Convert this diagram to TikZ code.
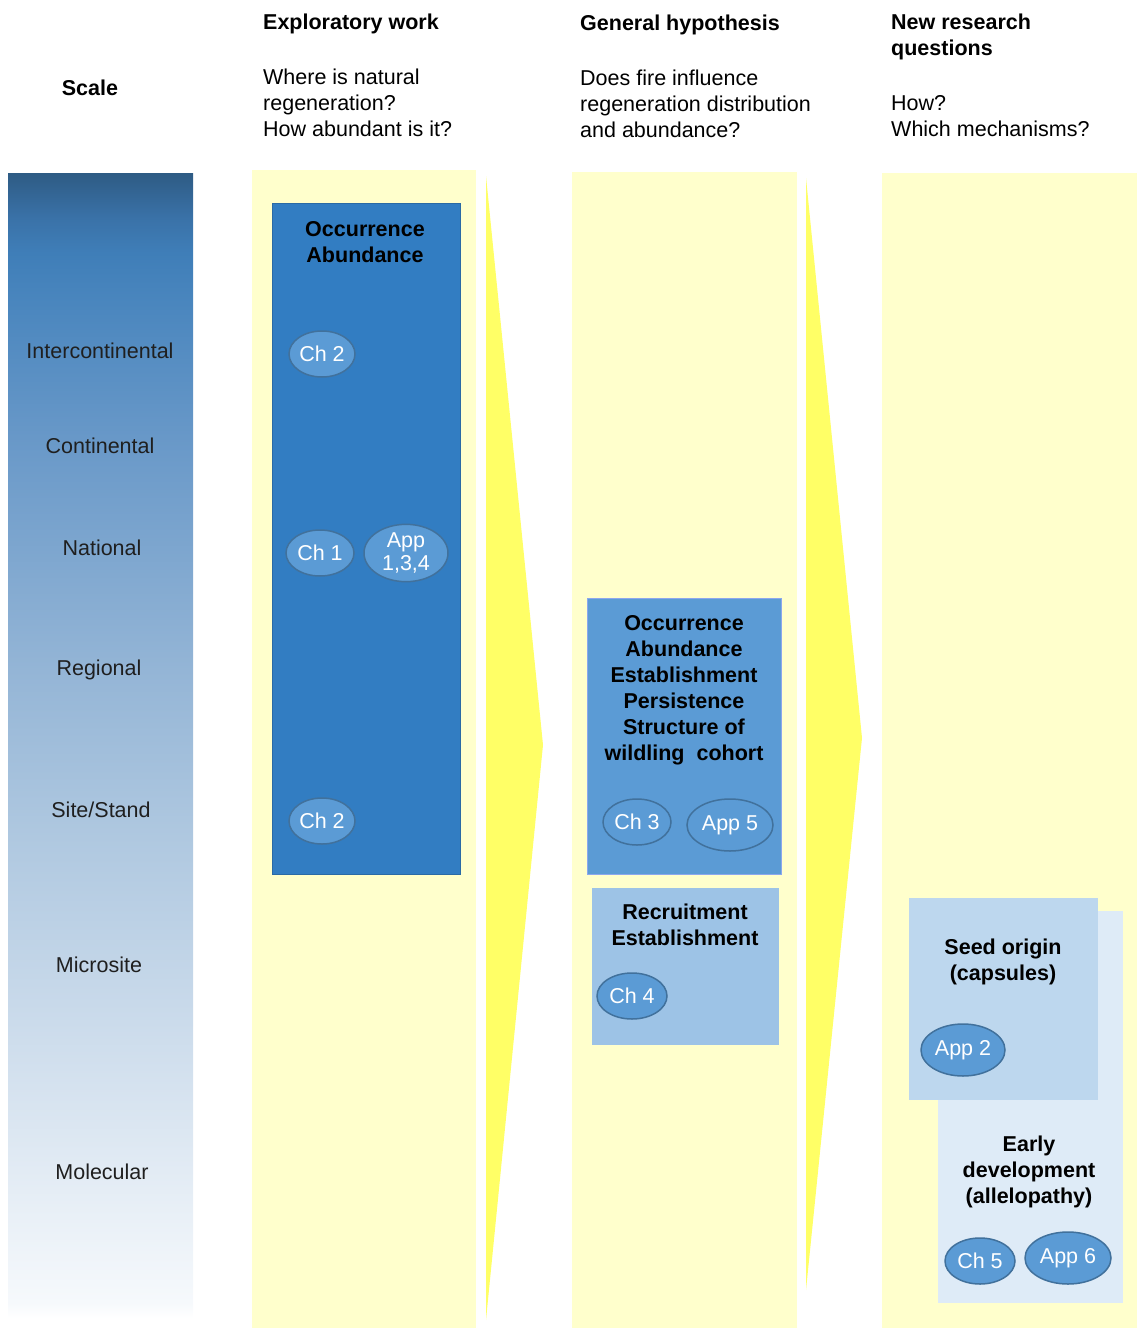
\documentclass[tikz,border=0pt]{standalone}
\usepackage{fontspec}
\setmainfont{Liberation Sans}
\usetikzlibrary{shapes.geometric}
\definecolor{scaletop}{HTML}{2E5B84}
\definecolor{sbA}{HTML}{F6F9FC}
\definecolor{sbB}{HTML}{E2EBF4}
\definecolor{sbC}{HTML}{C8D9EA}
\definecolor{sbD}{HTML}{AFC8E0}
\definecolor{sbE}{HTML}{94B5D6}
\definecolor{sbF}{HTML}{6898C8}
\definecolor{sbG}{HTML}{4A86BE}
\definecolor{sbH}{HTML}{3F7EB8}
\definecolor{sbI}{HTML}{3A72A8}
\definecolor{colyellow}{HTML}{FFFFCC}
\definecolor{arrowyellow}{HTML}{FFFF66}
\definecolor{boxdark}{HTML}{327DC2}
\definecolor{boxmid}{HTML}{5B9BD5}
\definecolor{boxlight}{HTML}{9DC3E6}
\definecolor{boxpale}{HTML}{BDD7EE}
\definecolor{boxpaler}{HTML}{DEEBF7}
\definecolor{ellfill}{HTML}{5B9BD5}
\definecolor{elledge}{HTML}{41719C}
\pgfdeclareverticalshading{scalebar}{100bp}{color(0bp)=(white); color(25bp)=(white);
  color(25.66bp)=(sbA); color(31.46bp)=(sbB); color(38.76bp)=(sbC); color(46bp)=(sbD);
  color(53.3bp)=(sbE); color(63.47bp)=(sbF); color(69.32bp)=(sbG); color(71.51bp)=(sbH);
  color(73.03bp)=(sbI); color(75bp)=(scaletop); color(100bp)=(scaletop)}
\tikzset{
  txt/.style={font=\fontsize{21.5}{26}\selectfont, inner sep=0pt, text=black!88},
  head/.style={txt, font=\fontsize{21.5}{26}\selectfont\bfseries, text=black},
  question/.style={txt, text=black, align=left, anchor=west},
  title/.style={txt, font=\fontsize{21.5}{26}\selectfont\bfseries, text=black, align=center},
  scalelabel/.style={txt},
  box/.style={rectangle, anchor=north west, inner sep=0pt, line width=1pt},
  ell/.style={ellipse, draw=elledge, fill=ellfill, line width=1.5pt, inner sep=0pt,
    text=white, font=\fontsize{21.5}{22}\selectfont, align=center,
    minimum width=68, minimum height=46},
  appell/.style={ell, minimum width=86, minimum height=52}
}
\begin{document}
\begin{tikzpicture}[x=1pt,y=-1pt]
  \useasboundingbox (0,0) rectangle (1137,1328);
  % columns and arrows
  \fill[colyellow] (252,170) rectangle (476,1328);
  \fill[colyellow] (572,172) rectangle (797,1328);
  \fill[colyellow] (882,173) rectangle (1137,1328);
  \fill[arrowyellow] (486,176) -- (543,745) -- (486,1320) -- cycle;
  \fill[arrowyellow] (806,178) -- (862,738) -- (806,1290) -- cycle;
  % scale bar
  \shade[shading=scalebar] (8,173) rectangle (193,1318);
  % headings
  \node[head] (scale) at (90,88) {Scale};
  \node[head, anchor=west] (explor) at (263,24) {Exploratory work};
  \node[question] (explorq) at (263,103) {Where is natural\\regeneration?\\How abundant is it?};
  \node[head, anchor=west] (general) at (580,25) {General hypothesis};
  \node[question] (generalq) at (580,104) {Does fire influence\\regeneration distribution\\and abundance?};
  \node[head, anchor=west, align=left] (newres) at (891,37) {New research\\questions};
  \node[question] (newresq) at (891,116) {How?\\Which mechanisms?};
  % scale labels
  \node[scalelabel] (intercont) at (100,351) {Intercontinental};
  \node[scalelabel] (continent) at (100,446) {Continental};
  \node[scalelabel] (national) at (102,548) {National};
  \node[scalelabel] (regional) at (99,670) {Regional};
  \node[scalelabel] (site) at (101,810) {Site/Stand};
  \node[scalelabel] (microsite) at (99,965) {Microsite};
  \node[scalelabel] (molecular) at (102,1172) {Molecular};
  % boxes
  \node[box, fill=boxdark, draw=boxdark!85!black, minimum width=188, minimum height=671] (occbox) at (272,203) {};
  \node[box, fill=boxmid, draw=boxmid!70!blue!60!white, minimum width=194, minimum height=276] (hypbox) at (587,598) {};
  \node[box, fill=boxlight, minimum width=187, minimum height=157] (recbox) at (591,887) {};
  \node[box, fill=boxpaler, minimum width=185, minimum height=392] (earlybox) at (937,910) {};
  \node[box, fill=boxpale, minimum width=189, minimum height=202] (seedbox) at (908,897) {};
  % box titles
  \node[title] (occtitle) at (365,242) {Occurrence\\Abundance};
  \node[title] (hyptitle) at (684,690) {Occurrence\\Abundance\\Establishment\\Persistence\\Structure of\\wildling\ \ cohort};
  \node[title] (rectitle) at (685,925) {Recruitment\\Establishment};
  \node[title] (seedtitle) at (1003,962) {Seed origin\\(capsules)};
  \node[title] (earlytitle) at (1029,1172) {Early\\development\\(allelopathy)};
  % chapters and appendices
  \node[ell, minimum width=66] (ch2a) at (322,354) {Ch 2};
  \node[ell] (ch1) at (320,553) {Ch 1};
  \node[appell, minimum width=84, font=\fontsize{21.5}{23}\selectfont] (app134) at (406,553) {App\\1,3,4};
  \node[ell, minimum width=66] (ch2b) at (322,821) {Ch 2};
  \node[ell] (ch3) at (637,822) {Ch 3};
  \node[appell] (app5) at (730,825) {App 5};
  \node[ell, minimum width=70] (ch4) at (632,996) {Ch 4};
  \node[appell, minimum width=84] (app2) at (963,1050) {App 2};
  \node[ell, minimum width=70] (ch5) at (980,1261) {Ch 5};
  \node[appell] (app6) at (1068,1258) {App 6};
\end{tikzpicture}
\end{document}
